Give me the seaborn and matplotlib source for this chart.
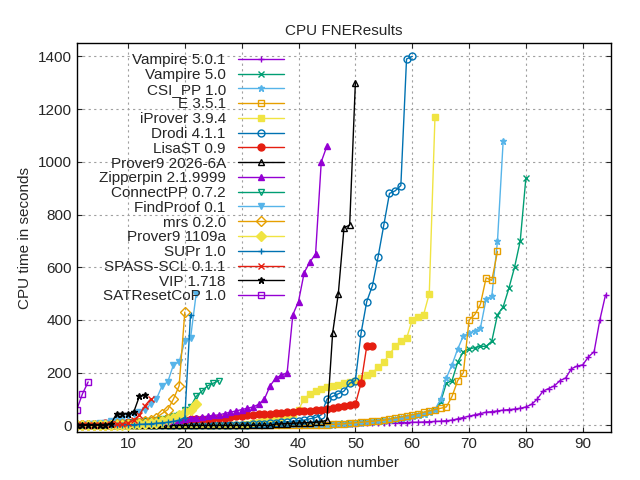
import seaborn as sns
import matplotlib.pyplot as plt
import numpy as np

names = ["Vampire 5.0.1", "Vampire 5.0", "CSI_PP 1.0", "E 3.5.1", "iProver 3.9.4",
         "Drodi 4.1.1", "LisaST 0.9", "Prover9 2026-6A", "Zipperpin 2.1.9999",
         "ConnectPP 0.7.2", "FindProof 0.1", "mrs 0.2.0", "Prover9 1109a",
         "SUPr 1.0", "SPASS-SCL 0.1.1", "VIP 1.718", "SATResetCoP 1.0"]

# sorted CPU times per system (solution i has time y[i-1])
vampire501 = [0]*31 + [1, 1, 2, 2, 2, 3, 3, 3, 4, 4, 4, 5, 5, 5, 6, 6, 6, 7, 7, 8, 8, 8, 9, 9, 10, 10, 11, 11, 12, 12,
                       13, 14, 15, 16, 18, 20, 25, 30, 35, 40, 45, 50, 52, 55, 58, 60, 62, 65, 70, 80, 100, 130, 140, 150,
                       170, 180, 215, 225, 230, 260, 280, 400, 495]
vampire50 = [0]*40 + [1, 2, 3, 4, 5, 6, 7, 8, 9, 10, 12, 14, 16, 18, 20, 22, 25, 28, 32, 36,
                      40, 45, 50, 60, 90, 160, 170, 240, 280, 290, 295, 300, 300, 320, 420, 450, 520, 600, 700, 940]
csipp = [0]*43 + [1, 2, 3, 4, 5, 6, 8, 10, 12, 14, 16, 18, 20, 24, 28, 32, 36, 40, 45, 50,
                  60, 100, 180, 230, 290, 340, 350, 360, 370, 480, 490, 700, 1080]
e351 = [0]*42 + [1, 2, 3, 4, 5, 6, 8, 10, 12, 14, 16, 18, 20, 24, 28, 32, 36, 40, 45, 50,
                 55, 60, 65, 70, 110, 170, 200, 400, 420, 460, 560, 550, 660]
iprover = [0]*30 + [5, 8, 12, 15, 20, 25, 30, 35, 45, 60, 100, 120, 130, 140, 145, 150, 155, 160, 165, 170,
                    180, 190, 200, 220, 240, 270, 300, 320, 330, 400, 410, 420, 500, 1170]
drodi = [0]*29 + [2, 3, 4, 5, 6, 8, 10, 12, 14, 16, 18, 20, 25, 30, 40, 100, 110, 120, 130, 160, 170,
                  350, 470, 530, 640, 760, 880, 890, 910, 1390, 1400]
lisast = [3, 4, 5, 6, 7, 8, 9, 10, 11, 12, 13, 14, 15, 16, 17, 18, 19, 20, 21, 22, 23, 24, 25, 26, 27, 28,
          30, 32, 34, 36, 38, 40, 42, 44, 45, 46, 48, 50, 52, 54, 55, 56, 58, 60, 62, 65, 70, 75, 78, 80,
          160, 300, 300]
prover9new = [0]*35 + [5, 6, 7, 8, 9, 10, 11, 12, 14, 20, 350, 500, 750, 760, 1300]
zipperpin = [1, 2, 3, 4, 5, 6, 7, 8, 9, 10, 11, 12, 13, 14, 15, 16, 18, 20, 22, 25, 28, 30, 32, 35, 38,
             40, 45, 50, 55, 60, 65, 70, 80, 100, 150, 180, 190, 200, 420, 470, 580, 620, 650, 1000, 1060]
connectpp = [1, 2, 3, 4, 5, 6, 7, 8, 9, 10, 12, 14, 16, 18, 20, 25, 30, 35, 40, 60, 70, 110, 130, 150, 160, 170]
findproof = [1, 2, 4, 6, 8, 10, 15, 20, 25, 35, 45, 50, 60, 80, 100, 150, 165, 230, 240, 320, 330, 500]
mrs = [0, 0, 1, 1, 2, 2, 3, 4, 5, 6, 8, 10, 15, 20, 30, 45, 60, 100, 150, 430]
prover9old = [0, 0, 0, 1, 1, 1, 2, 2, 3, 3, 4, 5, 6, 8, 10, 15, 20, 30, 40, 50, 60, 80]
supr = [0, 0, 0, 1, 1, 1, 2, 2, 2, 3, 3, 4, 5, 6, 8, 10, 12, 15, 20, 30, 420]
spassscl = [0, 0, 1, 1, 2, 3, 4, 5, 6, 10, 20, 40, 75, 100]
vip = [0, 0, 1, 1, 2, 3, 5, 45, 45, 45, 50, 110, 115]
satreset = [60, 120, 165]

series = [vampire501, vampire50, csipp, e351, iprover, drodi, lisast, prover9new, zipperpin,
          connectpp, findproof, mrs, prover9old, supr, spassscl, vip, satreset]

colors = ["#9400d3", "#009e73", "#56b4e9", "#e69f00", "#f0e442", "#0072b2", "#e51e10", "#000000"] * 3
markers = ["+", "x", "*", "s", "s", "o", "o", "^", "^", "v", "v", "D", "D", "+", "x", "*", "s"]
filled = [True, True, True, False, True, False, True, False, True, False, True, False, True, True, True, True, False]

sns.set_style("ticks")
plt.rcParams['font.family'] = ['Liberation Sans', 'DejaVu Sans']
fig, ax = plt.subplots(figsize=(6.4, 4.8), dpi=100)
for name, ys, c, m, f in zip(names, series, colors, markers, filled):
    xs = np.arange(1, len(ys) + 1)
    sns.lineplot(x=xs, y=ys, ax=ax, color=c, marker=m, markersize=5, linewidth=1,
                 markerfacecolor=c if f else "none", markeredgecolor=c, markeredgewidth=1,
                 label=name)

ax.set_xlim(1, 95)
ax.set_ylim(-25, 1450)
ax.set_xticks(range(10, 91, 10))
ax.set_yticks(range(0, 1401, 200))
ax.grid(True, color="#a0a0a0", linestyle=(0, (2, 3)), linewidth=0.8)
ax.tick_params(direction="in", top=True, right=True, labelsize=11)
for s in ax.spines.values():
    s.set_linewidth(1)
    s.set_color("black")
ax.set_title("CPU FNEResults", fontsize=11)
ax.set_xlabel("Solution number", fontsize=11)
ax.set_ylabel("CPU time in seconds", fontsize=11)
leg = ax.legend(loc="upper left", bbox_to_anchor=(0.03, 0.99), frameon=False, fontsize=11,
                markerfirst=False, handlelength=3, labelspacing=0.05, borderaxespad=0,
                alignment="right")
for t in leg.get_texts():
    t.set_ha("right")
leg._legend_box.align = "right"
for vp in leg._legend_handle_box.get_children():
    for hp in vp.get_children():
        hp.align = "baseline"
plt.subplots_adjust(left=0.12, right=0.955, top=0.91, bottom=0.1)
plt.savefig("out.png", dpi=100)
